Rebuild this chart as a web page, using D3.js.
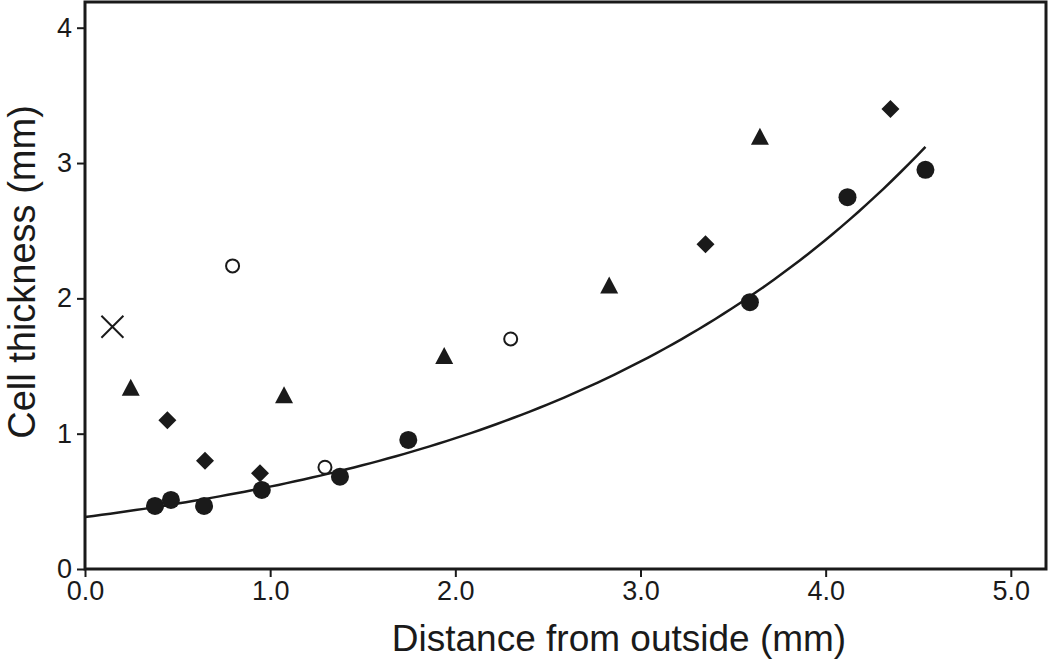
<!DOCTYPE html>
<html>
<head>
<meta charset="utf-8">
<script src="https://cdn.jsdelivr.net/npm/d3@7"></script>
<style>
  body { margin: 0; background: #fff; }
  text { font-family: "Liberation Sans", Arial, sans-serif; fill: #1a1a1a; }
</style>
</head>
<body>
<script>
// data (x = distance mm, y = thickness mm)
var circles  = [[0.378, 0.466], [0.464, 0.51], [0.643, 0.466], [0.955, 0.584], [1.377, 0.682],
                [1.746, 0.954], [3.591, 1.972], [4.118, 2.748], [4.539, 2.95]];
var diamonds = [[0.445, 1.10], [0.648, 0.80], [0.945, 0.707], [3.351, 2.40], [4.35, 3.40]];
var triangles = [[0.247, 1.336], [1.075, 1.28], [1.94, 1.57], [2.831, 2.092], [3.645, 3.19]];
var openCircles = [[0.797, 2.24], [1.296, 0.752], [2.299, 1.70]];
var crosses = [[0.148, 1.79]];
var xTicks = [0, 1, 2, 3, 4, 5];
var yTicks = [0, 1, 2, 3, 4];

var width = 1050, height = 666;
var margin = {left: 85, right: 4, top: 2, bottom: 97};
var ink = "#1a1a1a";

var svg = d3.select("body").append("svg")
    .attr("width", width)
    .attr("height", height);

var x = d3.scaleLinear().domain([0, 5.19]).range([margin.left, width - margin.right]);
var y = d3.scaleLinear().domain([0, 4.19]).range([height - margin.bottom, margin.top]);

// axes, ticks outside
var xAxis = svg.append("g")
    .attr("transform", "translate(0," + y(0) + ")")
    .call(d3.axisBottom(x).tickValues(xTicks).tickFormat(d3.format(".1f")).tickSize(8).tickPadding(4));
var yAxis = svg.append("g")
    .attr("transform", "translate(" + x(0) + ",0)")
    .call(d3.axisLeft(y).tickValues(yTicks).tickFormat(d3.format("d")).tickSize(8).tickPadding(5));

[xAxis, yAxis].forEach(function(g) {
  g.select(".domain").remove();
  g.selectAll(".tick line").attr("stroke", ink).attr("stroke-width", 2);
  g.selectAll(".tick text").style("font-size", "27px").attr("fill", ink);
});

// frame
svg.append("rect")
    .attr("x", x(0)).attr("y", y(4.19))
    .attr("width", x(5.19) - x(0)).attr("height", y(0) - y(4.19))
    .attr("fill", "none").attr("stroke", ink).attr("stroke-width", 3);

// exponential fit of the filled circles (log-linear least squares)
var mx = d3.mean(circles, function(d) { return d[0]; });
var my = d3.mean(circles, function(d) { return Math.log(d[1]); });
var b = d3.sum(circles, function(d) { return (d[0] - mx) * (Math.log(d[1]) - my); }) /
        d3.sum(circles, function(d) { return (d[0] - mx) * (d[0] - mx); });
var a = Math.exp(my - b * mx);
var xmax = d3.max(circles, function(d) { return d[0]; });
var fitPts = d3.range(0, 101).map(function(i) { var t = xmax * i / 100; return [t, a * Math.exp(b * t)]; });

svg.append("path")
    .datum(fitPts)
    .attr("d", d3.line().x(function(d) { return x(d[0]); }).y(function(d) { return y(d[1]); }))
    .attr("fill", "none").attr("stroke", ink).attr("stroke-width", 2.5);

// markers
svg.append("g").selectAll("circle").data(circles).enter().append("circle")
    .attr("cx", function(d) { return x(d[0]); })
    .attr("cy", function(d) { return y(d[1]); })
    .attr("r", 9).attr("fill", ink);

svg.append("g").selectAll("path").data(diamonds).enter().append("path")
    .attr("transform", function(d) { return "translate(" + x(d[0]) + "," + y(d[1]) + ")"; })
    .attr("d", "M0,-9L9,0L0,9L-9,0Z").attr("fill", ink);

svg.append("g").selectAll("path").data(triangles).enter().append("path")
    .attr("transform", function(d) { return "translate(" + x(d[0]) + "," + y(d[1]) + ")"; })
    .attr("d", "M0,-9.5L9,7.5L-9,7.5Z").attr("fill", ink);

svg.append("g").selectAll("circle").data(openCircles).enter().append("circle")
    .attr("cx", function(d) { return x(d[0]); })
    .attr("cy", function(d) { return y(d[1]); })
    .attr("r", 6.5).attr("fill", "#fff").attr("stroke", ink).attr("stroke-width", 2);

svg.append("g").selectAll("path").data(crosses).enter().append("path")
    .attr("transform", function(d) { return "translate(" + x(d[0]) + "," + y(d[1]) + ")"; })
    .attr("d", "M-11,-11L11,11M11,-11L-11,11")
    .attr("fill", "none").attr("stroke", ink).attr("stroke-width", 2);

// axis titles
svg.append("text")
    .attr("x", 619).attr("y", 651)
    .attr("text-anchor", "middle")
    .style("font-size", "37px")
    .text("Distance from outside (mm)");

svg.append("text")
    .attr("transform", "translate(35,272) rotate(-90)")
    .attr("text-anchor", "middle")
    .style("font-size", "38px")
    .text("Cell thickness (mm)");
</script>
</body>
</html>
